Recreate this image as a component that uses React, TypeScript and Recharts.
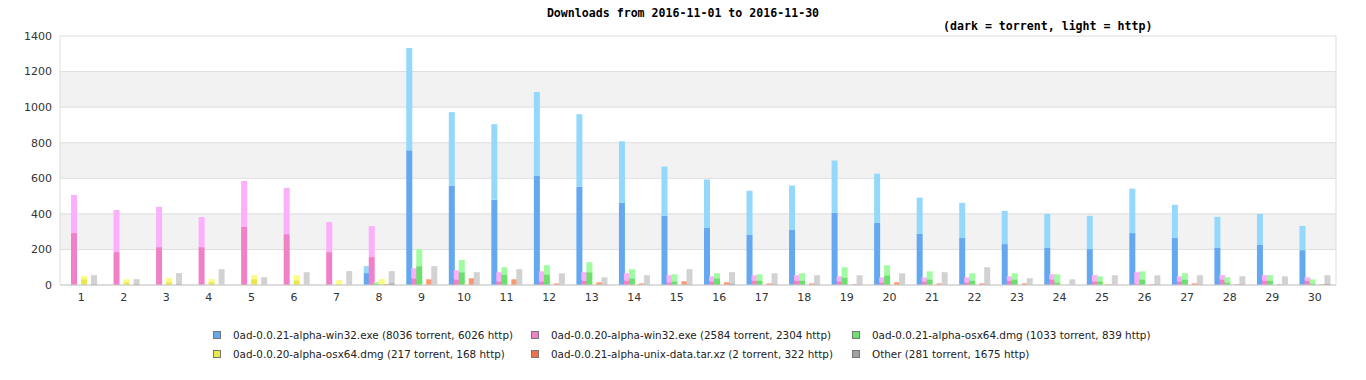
import React from 'react';
import { BarChart, Bar, XAxis, YAxis, CartesianGrid } from 'recharts';

const dayLabels = ['1','2','3','4','5','6','7','8','9','10','11','12','13','14','15','16','17','18','19','20','21','22','23','24','25','26','27','28','29','30'];

const win21Torrent = [0,0,0,0,0,0,0,67,757,559,479,615,553,462,389,321,281,309,406,349,287,264,230,208,202,292,264,208,225,196];
const win21Http = [0,0,0,0,0,0,0,39,576,413,425,470,407,346,277,272,249,250,294,277,204,198,187,192,187,250,187,175,175,136];

const win20Torrent = [292,185,213,213,326,286,185,157,38,32,21,21,26,26,15,21,26,26,21,15,21,15,26,32,21,9,21,32,26,26];
const win20Http = [214,237,226,169,259,260,169,174,56,51,51,56,46,40,40,28,29,29,28,28,22,28,23,28,34,63,28,23,29,17];

const osx21Torrent = [0,0,0,0,0,0,0,8,106,72,60,60,72,38,21,38,26,26,43,55,32,26,32,15,21,32,32,15,26,9];
const osx21Http = [0,0,0,0,0,0,0,8,96,68,40,51,56,51,39,28,34,40,57,56,45,40,34,45,28,45,34,28,29,23];

const osx20Torrent = [33,16,16,16,33,27,5,5,2,2,0,0,2,2,0,0,0,0,0,0,2,0,0,2,2,0,0,0,0,0];
const osx20Http = [17,17,23,17,22,28,22,28,2,2,0,0,2,2,0,0,0,0,0,0,2,0,0,2,2,0,0,0,0,0];

const unixTorrent = [0,0,0,0,0,0,0,0,0,0,0,0,0,0,0,0,0,0,0,0,0,0,0,0,0,0,0,0,0,0];
const unixHttp = [0,0,0,0,0,0,0,5,32,38,32,9,15,9,21,15,9,9,4,15,9,9,9,0,4,4,9,4,4,4];

const otherTorrent = [5,5,5,0,0,0,0,10,0,0,0,0,4,0,4,9,4,4,4,0,0,4,0,0,0,4,4,4,0,9];
const otherHttp = [50,28,62,89,44,72,78,68,106,72,89,66,39,55,85,63,62,51,51,66,72,96,38,32,55,51,51,45,49,46];

const seriesNames = [
  '0ad-0.0.21-alpha-win32.exe (8036 torrent, 6026 http)',
  '0ad-0.0.20-alpha-win32.exe (2584 torrent, 2304 http)',
  '0ad-0.0.21-alpha-osx64.dmg (1033 torrent, 839 http)',
  '0ad-0.0.20-alpha-osx64.dmg (217 torrent, 168 http)',
  '0ad-0.0.21-alpha-unix-data.tar.xz (2 torrent, 322 http)',
  'Other (281 torrent, 1675 http)',
];
const darkColors = ['#64a8f0', '#f080c8', '#6ce06c', '#e8e84c', '#f0704c', '#a0a0a0'];
const lightColors = ['#94d8fc', '#fcb0fc', '#a0fca0', '#fcfc80', '#fc9870', '#d2d2d2'];

const yTicks = [0, 200, 400, 600, 800, 1000, 1200, 1400];

const torrentSets = [win21Torrent, win20Torrent, osx21Torrent, osx20Torrent, unixTorrent, otherTorrent];
const httpSets = [win21Http, win20Http, osx21Http, osx20Http, unixHttp, otherHttp];

const data = dayLabels.map((d, i) => {
  const row: Record<string, string | number> = { day: d };
  torrentSets.forEach((arr, s) => { row['t' + s] = arr[i]; });
  httpSets.forEach((arr, s) => { row['h' + s] = arr[i]; });
  return row;
});

const legendCols = [213, 531, 852];

export default function App() {
  const tickStyle = { fontFamily: 'DejaVu Sans', fontSize: 11, fill: '#333' };
  return (
    <div style={{ position: 'absolute', left: 0, top: 0, width: 1366, height: 380, background: '#fff' }}>
      <div style={{ position: 'absolute', left: 0, top: 6, width: 1366, textAlign: 'center', fontFamily: 'DejaVu Sans Mono', fontWeight: 'bold', fontSize: 11.6, color: '#000', lineHeight: '14px' }}>
        Downloads from 2016-11-01 to 2016-11-30
      </div>
      <div style={{ position: 'absolute', left: 943, top: 19, fontFamily: 'DejaVu Sans Mono', fontWeight: 'bold', fontSize: 11.6, color: '#000', lineHeight: '14px', whiteSpace: 'nowrap' }}>
        (dark = torrent, light = http)
      </div>
      <BarChart
        width={1366}
        height={380}
        data={data}
        margin={{ top: 36, right: 29, left: 0, bottom: 65 }}
        barSize={6}
        barGap={-1}
      >
        <CartesianGrid vertical={false} stroke="#dddddd" horizontalFill={['#ffffff', '#f2f2f2']} fillOpacity={1} />
        <XAxis dataKey="day" height={30} interval={0} tickLine={false} axisLine={{ stroke: '#cccccc' }} tick={tickStyle} />
        <YAxis domain={[0, 1400]} ticks={yTicks} width={60} tickLine={false} axisLine={{ stroke: '#dddddd' }} tick={tickStyle} />
        <YAxis yAxisId="right" orientation="right" width={1} tick={false} tickLine={false} axisLine={{ stroke: '#dddddd' }} />
        {torrentSets.map((_, s) => [
          <Bar key={'t' + s} dataKey={'t' + s} stackId={'s' + s} fill={darkColors[s]} isAnimationActive={false} />,
          <Bar key={'h' + s} dataKey={'h' + s} stackId={'s' + s} fill={lightColors[s]} isAnimationActive={false} />,
        ])}
      </BarChart>
      {seriesNames.map((name, s) => {
        const col = s % 3;
        const row = Math.floor(s / 3);
        return (
          <div key={name} style={{ position: 'absolute', left: legendCols[col], top: 329 + row * 19, height: 12, display: 'flex', alignItems: 'center', whiteSpace: 'nowrap', fontFamily: 'DejaVu Sans', fontSize: 10.4, color: '#222' }}>
            <span style={{ display: 'inline-block', width: 6, height: 6, background: darkColors[s], border: '1px solid #777', marginRight: 12 }} />
            <span>{name}</span>
          </div>
        );
      })}
    </div>
  );
}
